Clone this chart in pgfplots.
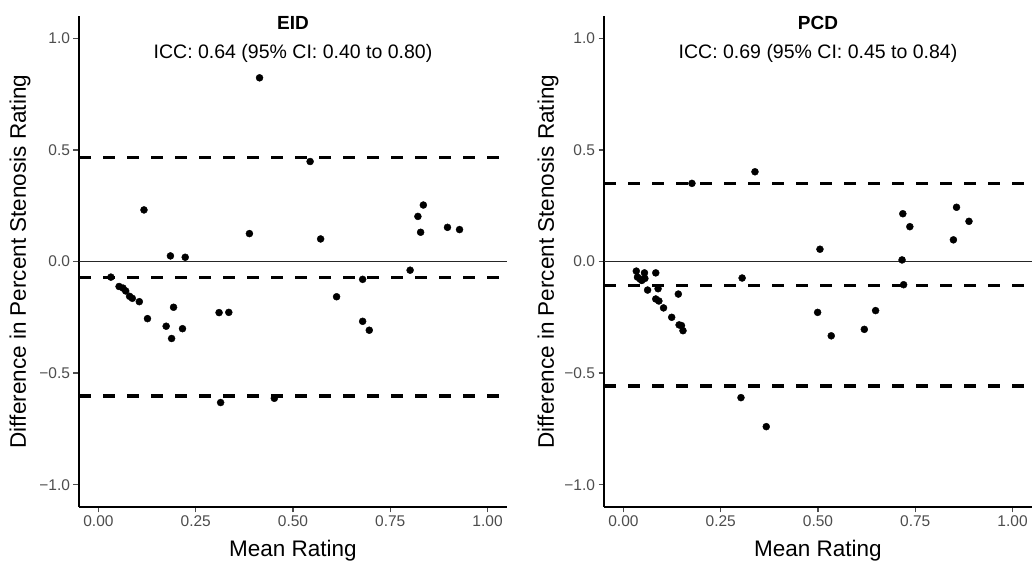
\documentclass[border=0pt]{standalone}
\usepackage{fontspec}
\setmainfont{Liberation Sans}
\usepackage{pgfplots}
\pgfplotsset{compat=1.18}
\definecolor{tickgrey}{HTML}{4D4D4D}

\pgfplotsset{
  ba/.style={
    scale only axis, width=428pt, height=491pt,
    xmin=-0.05, xmax=1.05, ymin=-1.1, ymax=1.1,
    axis x line*=bottom, axis y line*=left,
    axis line style={-, line width=1.8pt, black},
    xtick={0,0.25,0.5,0.75,1}, xticklabels={0.00,0.25,0.50,0.75,1.00},
    ytick={-1,-0.5,0,0.5,1}, yticklabels={−1.0,−0.5,0.0,0.5,1.0},
    tick align=outside, major tick length=5.5pt,
    tick style={line width=1.3pt, tickgrey},
    ticklabel style={font=\fontsize{15.5}{17}\selectfont, text=tickgrey},
    xlabel={Mean Rating}, ylabel={Difference in Percent Stenosis Rating},
    label style={font=\fontsize{22.5}{25}\selectfont},
    xlabel style={at={(axis description cs:0.5,-0.088)}, anchor=center},
    clip=false,
  },
  pts/.style={only marks, mark=*, mark size=3.5pt, black},
  lim/.style={line width=3.2pt, black, dash pattern=on 12pt off 12pt},
  zero/.style={line width=1.4pt, black!85},
}

\begin{document}
\begin{tikzpicture}
\path[use as bounding box] (0,0) rectangle (1032pt,561pt);

% EID panel
\begin{axis}[ba, at={(79pt,54pt)}, anchor=south west,
    ylabel style={at={(axis description cs:-0.138,0.5)}, anchor=center}]
\addplot[zero] coordinates {(-0.05,0) (1.05,0)};
\addplot[lim] coordinates {(-0.05,0.466) (1.05,0.466)};
\addplot[lim] coordinates {(-0.05,-0.070) (1.05,-0.070)};
\addplot[lim] coordinates {(-0.05,-0.603) (1.05,-0.603)};
\addplot[pts] coordinates {
  (0.032,-0.070) (0.053,-0.112) (0.063,-0.119) (0.070,-0.132)
  (0.080,-0.156) (0.087,-0.165) (0.105,-0.180) (0.117,0.231)
  (0.126,-0.256) (0.174,-0.290) (0.185,0.025) (0.188,-0.345)
  (0.193,-0.205) (0.216,-0.301) (0.223,0.019) (0.310,-0.229)
  (0.335,-0.228) (0.388,0.125) (0.414,0.823) (0.544,0.448)
  (0.571,0.101) (0.612,-0.158) (0.679,-0.080) (0.679,-0.268)
  (0.696,-0.308) (0.801,-0.039) (0.821,0.202) (0.828,0.131)
  (0.835,0.253) (0.897,0.153) (0.928,0.143) (0.314,-0.632)
  (0.452,-0.613)
};
\node[font=\fontsize{19}{21}\selectfont\bfseries] at (axis cs:0.5,1.067) {EID};
\node[font=\fontsize{19.5}{22}\selectfont] at (axis cs:0.5,0.934) {ICC: 0.64 (95\% CI: 0.40 to 0.80)};
\end{axis}

% PCD panel
\begin{axis}[ba, at={(604pt,54pt)}, anchor=south west,
    ylabel style={at={(axis description cs:-0.131,0.5)}, anchor=center}]
\addplot[zero] coordinates {(-0.05,0) (1.05,0)};
\addplot[lim] coordinates {(-0.05,0.350) (1.05,0.350)};
\addplot[lim] coordinates {(-0.05,-0.106) (1.05,-0.106)};
\addplot[lim] coordinates {(-0.05,-0.558) (1.05,-0.558)};
\addplot[pts] coordinates {
  (0.033,-0.043) (0.036,-0.070) (0.043,-0.079) (0.047,-0.085)
  (0.054,-0.051) (0.055,-0.076) (0.062,-0.128) (0.083,-0.051)
  (0.089,-0.122) (0.083,-0.168) (0.091,-0.177) (0.103,-0.208)
  (0.124,-0.250) (0.141,-0.146) (0.143,-0.284) (0.149,-0.287)
  (0.153,-0.310) (0.305,-0.074) (0.499,-0.228) (0.505,0.055)
  (0.534,-0.333) (0.619,-0.304) (0.648,-0.220) (0.716,0.007)
  (0.718,0.214) (0.720,-0.104) (0.736,0.156) (0.848,0.097)
  (0.856,0.243) (0.888,0.180) (0.176,0.350) (0.338,0.402)
  (0.302,-0.610) (0.367,-0.740)
};
\node[font=\fontsize{19}{21}\selectfont\bfseries] at (axis cs:0.5,1.067) {PCD};
\node[font=\fontsize{19.5}{22}\selectfont] at (axis cs:0.5,0.934) {ICC: 0.69 (95\% CI: 0.45 to 0.84)};
\end{axis}
\end{tikzpicture}
\end{document}
